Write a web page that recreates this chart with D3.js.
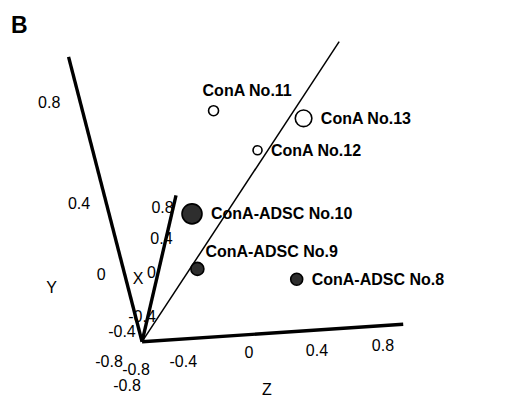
<!DOCTYPE html>
<html>
<head>
<meta charset="utf-8">
<script src="https://cdn.jsdelivr.net/npm/d3@7/dist/d3.min.js"></script>
<style>
  html, body { margin: 0; padding: 0; background: #fff; }
  svg { display: block; }
  text { font-family: "Liberation Sans", Arial, sans-serif; fill: #000; }
</style>
</head>
<body>
<svg id="chart" width="531" height="398"></svg>
<script>
// ---------------- data ----------------
const sampleNames = ["ConA No.11", "ConA No.12", "ConA No.13", "ConA-ADSC No.8", "ConA-ADSC No.9", "ConA-ADSC No.10"];
const sampleGroups = ["ConA", "ConA", "ConA", "ConA-ADSC", "ConA-ADSC", "ConA-ADSC"];
const xValues = [0.50, 0.20, 0.30, -0.40, -0.30, -0.20];
const yValues = [0.24, 0.14, 0.25, -0.30, -0.26, 0.03];
const zValues = [-0.18, 0.09, 0.38, 0.30, -0.30, -0.28];

const tickValues = [-0.8, -0.4, 0, 0.4, 0.8];
const tickLabels = ["-0.8", "-0.4", "0", "0.4", "0.8"];
const axisNames = ["X", "Y", "Z"];
const xAxisRange = [-0.58, 1.01];
const yAxisRange = [-0.51, 0.95];
const zAxisRange = [-0.615, 0.93];
// guide line drawn from the axis corner to this point
const guideEnd = [0.0, 0.68, 0.785];

// ---------------- layout / style (not data) ----------------
const origin = [142, 341.5];
const dir = {
  X: [0.2261, -0.9741],
  Y: [-0.2499, -0.9682],
  Z: [0.9977, -0.0668]
};
// perspective-like spacing along each projected axis (pixels from the corner)
const alongRange = {
  X: [-29.1, 23.9, 69.8, 105.2, 134.7],
  Y: [-38.4, 14.2, 75.0, 149.8, 254.6],
  Z: [-34.3, 39.85, 106.0, 174.0, 240.2]
};
// tick label offsets, perpendicular to each axis
const labelOffset = {
  X: [-0.6, 5.5, 6.6, 4.4, 10.2],
  Y: [25.4, 17.0, 22.7, 26.4, 30.1],
  Z: [18.2, 22.9, 18.6, 20.2, 19.6]
};
const titleAt = { X: [-0.08, 18], Y: [0.0, 74], Z: [0.09, 56.5] };
const pointRadius = [5, 4.5, 8.3, 6, 6.5, 10];
const labelShift = [[-11, -14.5], null, null, null, [8, -12], null];

// ---------------- projection ----------------
const along = {};
axisNames.forEach(k => {
  along[k] = d3.scaleLinear().domain(tickValues).range(alongRange[k]);
});
const normal = {
  X: [dir.X[1], -dir.X[0]],
  Y: [dir.Y[1], -dir.Y[0]],
  Z: [-dir.Z[1], dir.Z[0]]
};
function project(x, y, z) {
  const ax = along.X(x), ay = along.Y(y), az = along.Z(z);
  return [
    origin[0] + ax * dir.X[0] + ay * dir.Y[0] + az * dir.Z[0],
    origin[1] + ax * dir.X[1] + ay * dir.Y[1] + az * dir.Z[1]
  ];
}
const ranges = { X: xAxisRange, Y: yAxisRange, Z: zAxisRange };
const corner = [xAxisRange[0], yAxisRange[0], zAxisRange[0]];

const svg = d3.select("#chart");

// panel letter
svg.append("text").attr("x", 11).attr("y", 33)
  .style("font-size", "23px").style("font-weight", "bold").text("B");

// axes
const line = d3.line();
axisNames.forEach((k, i) => {
  const end = corner.slice();
  end[i] = ranges[k][1];
  svg.append("path")
    .attr("d", line([project(...corner), project(...end)]))
    .attr("stroke", "#000").attr("stroke-width", 3.4).attr("fill", "none");
});

// guide line
svg.append("path")
  .attr("d", line([project(...corner), project(...guideEnd)]))
  .attr("stroke", "#000").attr("stroke-width", 1.5).attr("fill", "none");

// tick labels
axisNames.forEach((k, i) => {
  const offs = d3.scaleLinear().domain(tickValues).range(labelOffset[k]);
  tickValues.forEach((v, j) => {
    const a = along[k](v);
    const px = origin[0] + a * dir[k][0] + offs(v) * normal[k][0];
    const py = origin[1] + a * dir[k][1] + offs(v) * normal[k][1];
    svg.append("text").attr("x", px).attr("y", py)
      .attr("text-anchor", "middle").attr("dominant-baseline", "central")
      .style("font-size", "16px").text(tickLabels[j]);
  });
  // axis title
  const t = titleAt[k];
  const a = along[k](t[0]);
  svg.append("text")
    .attr("x", origin[0] + a * dir[k][0] + t[1] * normal[k][0])
    .attr("y", origin[1] + a * dir[k][1] + t[1] * normal[k][1])
    .attr("text-anchor", "middle").attr("dominant-baseline", "central")
    .style("font-size", "16px").text(k);
});

// points
const pts = sampleNames.map((n, i) => ({
  name: n, group: sampleGroups[i],
  pos: project(xValues[i], yValues[i], zValues[i]),
  r: pointRadius[i], shift: labelShift[i]
}));

svg.append("g").selectAll("circle").data(pts).join("circle")
  .attr("cx", d => d.pos[0]).attr("cy", d => d.pos[1]).attr("r", d => d.r)
  .attr("fill", d => d.group === "ConA" ? "none" : "#2e2e2e")
  .attr("stroke", "#000").attr("stroke-width", 1.6);

svg.append("g").selectAll("text").data(pts).join("text")
  .attr("x", d => d.shift ? d.pos[0] + d.shift[0] : d.pos[0] + d.r + 9)
  .attr("y", d => d.shift ? d.pos[1] + d.shift[1] : d.pos[1] + 5.5)
  .style("font-size", "16px").style("font-weight", "bold")
  .text(d => d.name);
</script>
</body>
</html>
